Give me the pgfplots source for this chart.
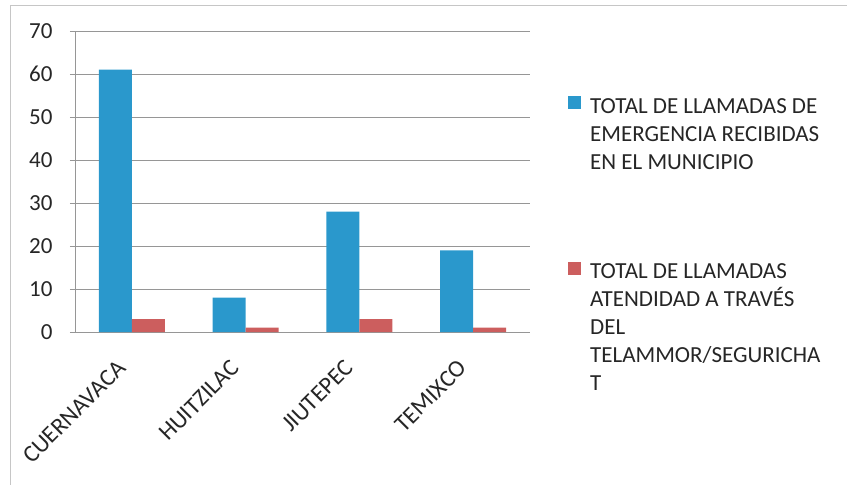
\documentclass[border=0pt]{standalone}
\usepackage{pgfplots}
\pgfplotsset{compat=1.18}
\usepackage{fontspec}
\setmainfont{Carlito}
\definecolor{barblue}{RGB}{42,152,204}
\definecolor{barred}{RGB}{204,94,94}
\definecolor{gridgray}{RGB}{150,150,150}
\begin{document}
\begin{tikzpicture}
\path[use as bounding box] (-75pt,-153pt) rectangle (772pt,332pt);
% borde del área del gráfico
\draw[gray!45, thin] (-65pt,-153pt) -- (-65pt,327pt) -- (772pt,327pt);
\begin{axis}[
  at={(0pt,0pt)}, anchor=south west,
  scale only axis,
  width=455pt, height=301pt,
  ybar=0pt, bar width=0.29,
  xmin=-0.5, xmax=3.5,
  ymin=0, ymax=70,
  ytick={0,10,...,70},
  xtick={0,1,2,3},
  xticklabels={CUERNAVACA, HUITZILAC, JIUTEPEC, TEMIXCO},
  extra x ticks={-0.5,0.5,1.5,2.5,3.5},
  extra x tick labels={},
  extra x tick style={major tick length=6pt, tick style={gridgray, thin}, grid=none},
  major x tick style={draw=none},
  axis x line*=bottom, axis y line*=left,
  axis line style={gridgray, thin, -},
  ymajorgrids, grid style={gridgray, thin},
  major y tick style={gridgray}, ytick style={gridgray}, tick align=outside,
  major tick length=5pt,
  every tick label/.append style={font=\fontsize{23}{26}\selectfont, text=black!85},
  x tick label style={xshift=-16pt, yshift=-20pt, rotate=45, anchor=north east, inner sep=1pt, font=\fontsize{24}{26}\selectfont},
  yticklabel style={xshift=-14pt},
  /pgf/number format/assume math mode=true,
  legend style={at={(1.0835,0.784)}, anchor=north west, draw=none, fill=none,
    font=\fontsize{23}{28}\selectfont, text=black!85,
    cells={align=left, anchor=north west}, row sep=89pt, inner sep=0pt},
  legend image code/.code={\path (20pt,0pt); \fill[#1] (0pt,-13pt) rectangle (13pt,0pt);},
]
\addplot[fill=barblue, draw=none] coordinates {(0,61) (1,8) (2,28) (3,19)};
\addplot[fill=barred, draw=none] coordinates {(0,3) (1,1) (2,3) (3,1)};
\legend{TOTAL DE LLAMADAS DE\\EMERGENCIA RECIBIDAS\\EN EL MUNICIPIO,
  TOTAL DE LLAMADAS\\ATENDIDAD A TRAVÉS\\DEL\\TELAMMOR/SEGURICHA\\T}
\end{axis}
\end{tikzpicture}
\end{document}
